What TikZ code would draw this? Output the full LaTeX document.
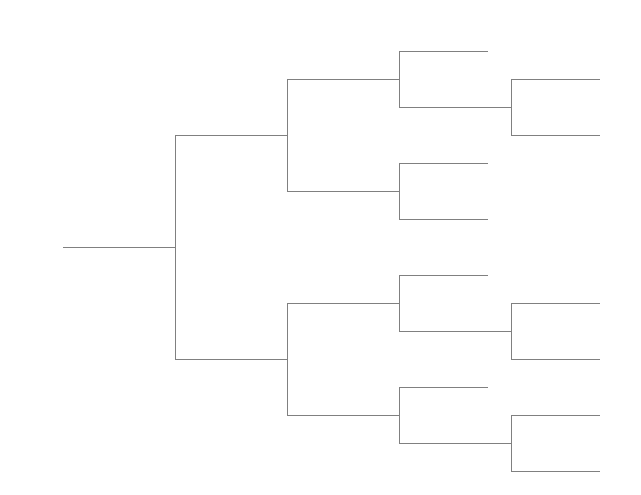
\documentclass[tikz,border=0pt]{standalone}
\begin{document}
\begin{tikzpicture}[x=1pt,y=-1pt,br/.style={draw=gray,line width=0.7pt}]
\useasboundingbox (0,0) rectangle (641,495);
\coordinate (r0) at (63,247);
\coordinate (r) at (175,247);
% level 1
\coordinate (a) at (175,135); \coordinate (b) at (175,359);
\coordinate (a2) at (287,135); \coordinate (b2) at (287,359);
\draw[br] (r0) -- (r);
\draw[br] (a) -- (b);
\draw[br] (a) -- (a2); \draw[br] (b) -- (b2);
% level 2
\draw[br] (287,79) -- (287,191);
\draw[br] (287,303) -- (287,415);
\draw[br] (287,79) -- (399,79); \draw[br] (287,191) -- (399,191);
\draw[br] (287,303) -- (399,303); \draw[br] (287,415) -- (399,415);
% level 3
\foreach \t/\u in {51/107,163/219,275/331,387/443}{
  \draw[br] (399,\t) -- (399,\u);
}
\foreach \y in {51,163,219,275,387}{ \draw[br] (399,\y) -- (488,\y); }
\foreach \y in {107,331,443}{ \draw[br] (399,\y) -- (511,\y); }
% level 4
\foreach \t/\u in {79/135,303/359,415/471}{
  \draw[br] (511,\t) -- (511,\u);
  \draw[br] (511,\t) -- (600,\t);
  \draw[br] (511,\u) -- (600,\u);
}
\end{tikzpicture}
\end{document}
